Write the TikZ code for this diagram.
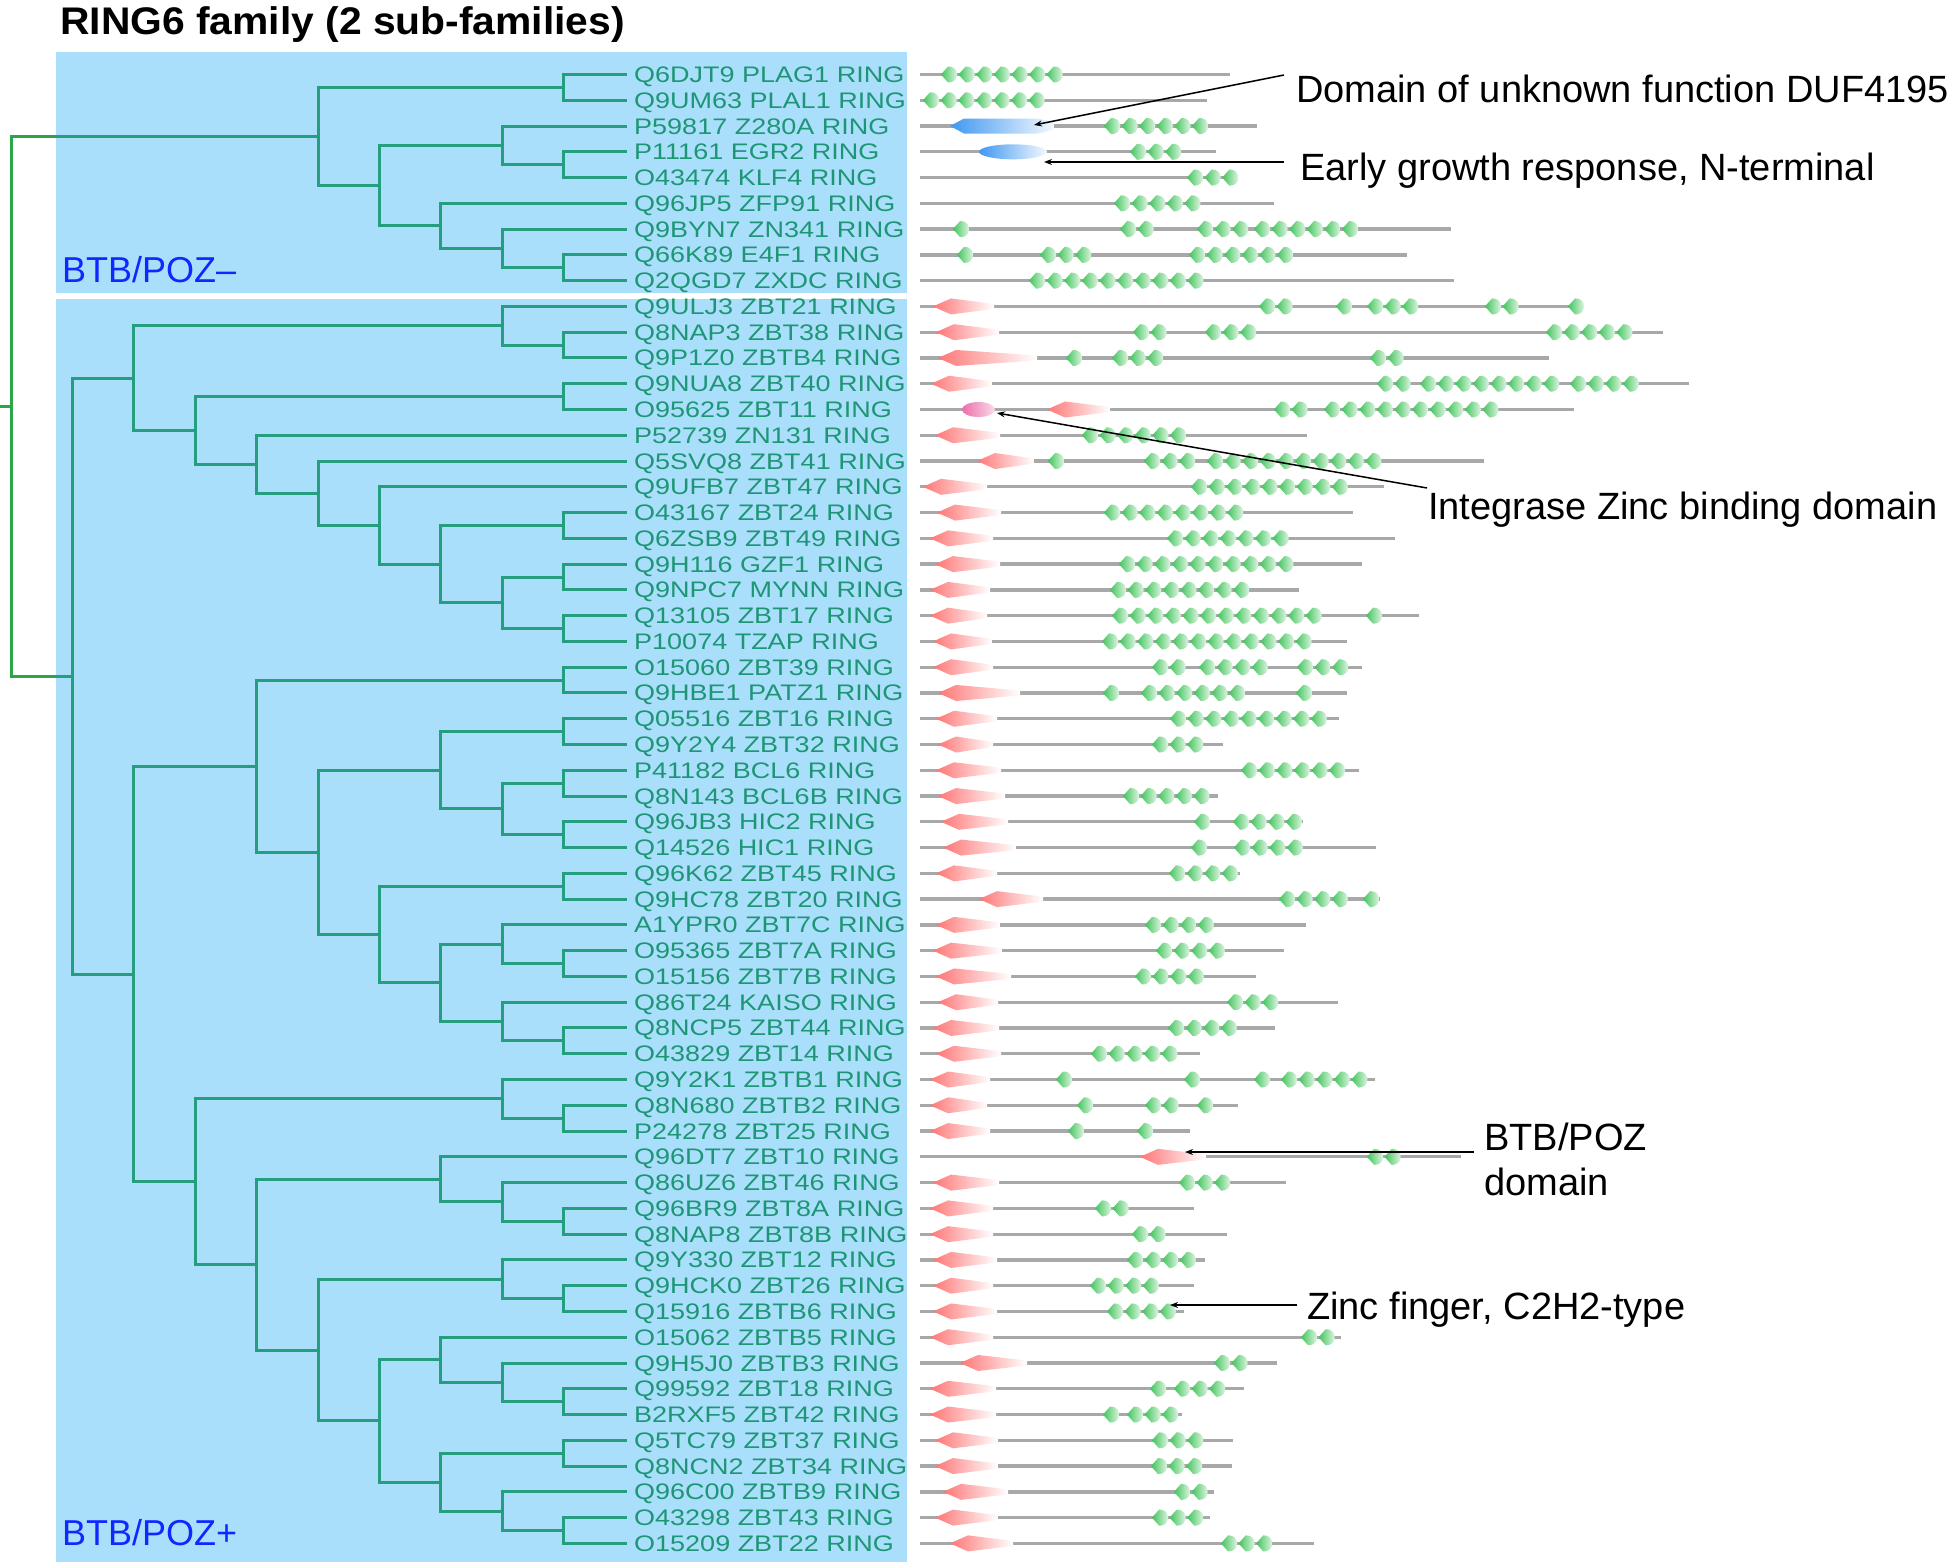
\documentclass[tikz,border=0pt]{standalone}
\usepackage{fontspec}
\setmainfont{Liberation Sans}
\newfontfamily\leaffont[FakeStretch=1.2]{Liberation Sans}
\newfontfamily\headfont[FakeStretch=1.06]{Liberation Sans}
\usetikzlibrary{arrows.meta}

\definecolor{panelblue}{RGB}{170,223,251}
\definecolor{treeteal}{RGB}{36,158,126}
\definecolor{leafteal}{RGB}{30,150,118}
\definecolor{rootgreen}{RGB}{44,164,72}
\definecolor{groupblue}{RGB}{16,40,255}
\definecolor{seqgrey}{RGB}{168,168,168}
\definecolor{znfgreen}{RGB}{64,196,90}
\definecolor{btbred}{RGB}{255,118,118}
\definecolor{dufblue}{RGB}{64,152,240}
\definecolor{intpink}{RGB}{236,110,170}

\begin{document}
\begin{tikzpicture}[x=1pt, y=-1pt,
  branch/.style={draw=treeteal, line width=3pt, line cap=rect},
  rootbranch/.style={draw=rootgreen, line width=3pt, line cap=rect},
  leaf/.style={anchor=west, inner sep=0pt, text=leafteal, text height=16pt, text depth=0pt,
    font=\leaffont\fontsize{22.5pt}{24pt}\selectfont},
  group/.style={anchor=base west, inner sep=0pt, text=groupblue, font=\fontsize{36pt}{40pt}\selectfont},
  note/.style={anchor=base west, inner sep=0pt, font=\fontsize{38pt}{45pt}\selectfont},
  pointer/.style={draw=black, line width=1.5pt, -{Stealth[length=8pt,width=6pt]}},
  seq/.style={draw=seqgrey, line width=3.3pt},
  znf/.pic={\shade[left color=znfgreen, right color=znfgreen!18]
    (0pt,0pt) -- (7pt,-8pt) .. controls (14pt,-8pt) and (16pt,-4pt) .. (16pt,0pt)
    .. controls (16pt,4pt) and (14pt,8pt) .. (7pt,8pt) -- cycle;},
  btb/.pic={\shade[left color=btbred, right color=white]
    (0pt,0pt) -- (18pt,-8pt) -- (#1pt,-2.5pt) -- (#1pt,2.5pt) -- (18pt,8pt) -- cycle;}]
\useasboundingbox (0,0) rectangle (1947,1562);

\fill[panelblue] (56,52) rectangle (907,293);
\fill[panelblue] (56,299) rectangle (907,1562);

\node[anchor=base west, inner sep=0pt, font=\headfont\bfseries\fontsize{38.5pt}{42pt}\selectfont]
  (title) at (60,35) {RING6 family (2 sub-families)};
\node[group] (minus) at (62,283) {BTB/POZ–};
\node[group] (plus) at (62,1545) {BTB/POZ+};

\begin{scope}[y=-25.77pt, yshift=-74.5pt]
\foreach \lab [count=\i from 0] in {Q6DJT9 PLAG1 RING, Q9UM63 PLAL1 RING, P59817 Z280A RING,
  P11161 EGR2 RING, O43474 KLF4 RING, Q96JP5 ZFP91 RING, Q9BYN7 ZN341 RING, Q66K89 E4F1 RING,
  Q2QGD7 ZXDC RING, Q9ULJ3 ZBT21 RING, Q8NAP3 ZBT38 RING, Q9P1Z0 ZBTB4 RING, Q9NUA8 ZBT40 RING,
  O95625 ZBT11 RING, P52739 ZN131 RING, Q5SVQ8 ZBT41 RING, Q9UFB7 ZBT47 RING, O43167 ZBT24 RING,
  Q6ZSB9 ZBT49 RING, Q9H116 GZF1 RING, Q9NPC7 MYNN RING, Q13105 ZBT17 RING, P10074 TZAP RING,
  O15060 ZBT39 RING, Q9HBE1 PATZ1 RING, Q05516 ZBT16 RING, Q9Y2Y4 ZBT32 RING, P41182 BCL6 RING,
  Q8N143 BCL6B RING, Q96JB3 HIC2 RING, Q14526 HIC1 RING, Q96K62 ZBT45 RING, Q9HC78 ZBT20 RING,
  A1YPR0 ZBT7C RING, O95365 ZBT7A RING, O15156 ZBT7B RING, Q86T24 KAISO RING, Q8NCP5 ZBT44 RING,
  O43829 ZBT14 RING, Q9Y2K1 ZBTB1 RING, Q8N680 ZBTB2 RING, P24278 ZBT25 RING, Q96DT7 ZBT10 RING,
  Q86UZ6 ZBT46 RING, Q96BR9 ZBT8A RING, Q8NAP8 ZBT8B RING, Q9Y330 ZBT12 RING, Q9HCK0 ZBT26 RING,
  Q15916 ZBTB6 RING, O15062 ZBTB5 RING, Q9H5J0 ZBTB3 RING, Q99592 ZBT18 RING, B2RXF5 ZBT42 RING,
  Q5TC79 ZBT37 RING, Q8NCN2 ZBT34 RING, Q96C00 ZBTB9 RING, O43298 ZBT43 RING, O15209 ZBT22 RING}
{
  \coordinate (t\i) at (625,\i);
  \node[leaf] (l\i) at (634,\i) {\lab};
}

\foreach \n/\x/\y in {m1/563.6/0.5, m2/563.6/3.5, m3/502.2/2.75, m4/563.6/7.5, m5/502.2/6.75,
  m6/440.8/5.875, m7/379.4/4.3125, m8/318/2.40625,
  n1/563.6/10.5, n2/502.2/9.75, n3/563.6/12.5, n4/563.6/17.5, n5/563.6/19.5, n6/563.6/21.5,
  n7/502.2/20.5, n8/440.8/19, n9/379.4/17.5, n10/318/16.25, n11/256.6/15.125, n12/195.2/13.8125,
  n13/133.8/11.78125, n14/563.6/23.5, n15/563.6/25.5, n16/563.6/27.5, n17/563.6/29.5,
  n18/502.2/28.5, n19/440.8/27, n20/563.6/31.5, n21/563.6/34.5, n22/502.2/33.75, n23/563.6/37.5,
  n24/502.2/36.75, n25/440.8/35.25, n26/379.4/33.375, n27/318/30.1875, n28/256.6/26.84375,
  n29/563.6/40.5, n30/502.2/39.75, n31/563.6/44.5, n32/502.2/43.75, n33/440.8/42.875,
  n34/563.6/47.5, n35/502.2/46.75, n36/563.6/51.5, n37/502.2/50.75, n38/440.8/49.875,
  n39/563.6/53.5, n40/563.6/56.5, n41/502.2/55.75, n42/440.8/54.625, n43/379.4/52.25,
  n44/318/49.5, n45/256.6/46.1875, n46/195.2/42.96875, n47/133.8/34.90625, n48/72.4/23.34375}
  \coordinate (\n) at (\x,\y);
\coordinate (root) at (11,12.875);
\coordinate (stub) at (0,12.875);
\coordinate (edge) at (56,0);

\foreach \a/\p/\b in {t0/m1/t1, t3/m2/t4, t2/m3/m2, t7/m4/t8, t6/m5/m4, t5/m6/m5, m3/m7/m6, m1/m8/m7,
  t10/n1/t11, t9/n2/n1, t12/n3/t13, t17/n4/t18, t19/n5/t20, t21/n6/t22, n5/n7/n6, n4/n8/n7,
  t16/n9/n8, t15/n10/n9, t14/n11/n10, n3/n12/n11, n2/n13/n12,
  t23/n14/t24, t25/n15/t26, t27/n16/t28, t29/n17/t30, n16/n18/n17, n15/n19/n18, t31/n20/t32,
  t34/n21/t35, t33/n22/n21, t37/n23/t38, t36/n24/n23, n22/n25/n24, n20/n26/n25, n19/n27/n26,
  n14/n28/n27, t40/n29/t41, t39/n30/n29, t44/n31/t45, t43/n32/n31, t42/n33/n32, t47/n34/t48,
  t46/n35/n34, t51/n36/t52, t50/n37/n36, t49/n38/n37, t53/n39/t54, t56/n40/t57, t55/n41/n40,
  n39/n42/n41, n38/n43/n42, n35/n44/n43, n33/n45/n44, n30/n46/n45, n28/n47/n46, n13/n48/n47}
  \draw[branch] (\a) -| (\p) |- (\b);
\draw[rootbranch] (m8) -| (root) |- (n48);
\draw[rootbranch] (stub) -- (root);
\draw[branch] (m8) -- (m8 -| edge);
\draw[branch] (n48) -- (n48 -| edge);

\foreach \r/\e in {0/1230, 1/1207, 2/1257, 3/1216, 4/1237, 5/1274, 6/1451, 7/1407, 8/1454,
  9/1581, 10/1663, 11/1549, 12/1689, 13/1574, 14/1307, 15/1484, 16/1384, 17/1353, 18/1395,
  19/1362, 20/1299, 21/1419, 22/1347, 23/1362, 24/1347, 25/1339, 26/1223, 27/1359, 28/1218,
  29/1303, 30/1376, 31/1240, 32/1380, 33/1306, 34/1284, 35/1256, 36/1338, 37/1275, 38/1200,
  39/1375, 40/1238, 41/1190, 42/1461, 43/1286, 44/1194, 45/1227, 46/1205, 47/1194, 48/1184,
  49/1341, 50/1277, 51/1244, 52/1182, 53/1233, 54/1232, 55/1214, 56/1210, 57/1314}
  \draw[seq] (920,\r) -- (\e,\r);

\foreach \r/\s/\w in {9/933/61, 10/936/63, 11/938/99, 12/931/61, 13/1047/63, 14/935/65,
  15/977/57, 16/923/64, 17/937/64, 18/930/63, 19/935/65, 20/930/60, 21/930/57, 22/933/59,
  23/933/60, 24/938/82, 25/936/61, 26/938/55, 27/936/65, 28/938/67, 29/941/67, 30/943/73,
  31/936/61, 32/979/64, 33/936/64, 34/933/69, 35/936/75, 36/938/60, 37/933/66, 38/936/65,
  39/930/60, 40/930/57, 41/930/60, 42/1140/66, 43/933/66, 44/930/63, 45/930/63, 46/933/64,
  47/933/60, 48/933/64, 49/930/63, 50/960/67, 51/930/66, 52/930/66, 53/935/63, 54/935/63,
  55/943/65, 56/935/63, 57/950/63}
  \pic at (\s,\r) {btb=\w};

\shade[left color=dufblue, right color=dufblue!6] (950,2) -- ++(14pt,-7.5pt) -- ++(74pt,0pt)
  -- ++(16pt,4pt) -- ++(0pt,7pt) -- ++(-16pt,4pt) -- ++(-74pt,0pt) -- cycle;
\shade[left color=dufblue, right color=dufblue!6] (1013,3) ellipse [x radius=34pt, y radius=7.5pt];
\shade[left color=intpink, right color=intpink!25] (978.5,13) ellipse [x radius=16.5pt, y radius=7.5pt];

\foreach \r/\s/\k in {0/941/7, 1/923/7, 2/1104/6, 3/1130/3, 4/1187/3, 5/1114/5,
  6/953/1, 6/1120/2, 6/1197/3, 6/1254/6, 7/957/1, 7/1040/3, 7/1189/6, 8/1029/10,
  9/1259/2, 9/1336/1, 9/1367/3, 9/1485/2, 9/1568/1, 10/1133/2, 10/1205/3, 10/1546/5,
  11/1066/1, 11/1112/3, 11/1370/2, 12/1377/2, 12/1420/8, 12/1570/4, 13/1274/2, 13/1324/10,
  14/1082/6, 15/1048/1, 15/1144/3, 15/1207/10, 16/1191/9, 17/1104/8, 18/1167/7, 19/1119/10,
  20/1110/8, 21/1112/12, 21/1366/1, 22/1102/12, 23/1152/2, 23/1199/4, 23/1297/3,
  24/1103/1, 24/1141/6, 24/1296/1, 25/1170/9, 26/1152/3, 27/1241/6, 28/1123/5,
  29/1194/1, 29/1233/4, 30/1191/1, 30/1234/4, 31/1169/4, 32/1279/4, 32/1363/1, 33/1145/4,
  34/1156/4, 35/1135/4, 36/1227/3, 37/1168/4, 38/1091/5, 39/1056/1, 39/1184/1, 39/1254/1,
  39/1281/5, 40/1077/1, 40/1145/2, 40/1197/1, 41/1068/1, 41/1137/1, 42/1367/2, 43/1179/3,
  44/1095/2, 45/1132/2, 46/1127/4, 47/1090/4, 48/1107/4, 49/1301/2, 50/1214/2,
  51/1150/1, 51/1174/3, 52/1103/1, 52/1127/3, 53/1152/3, 54/1151/3, 55/1174/2, 56/1152/3,
  57/1221/3}
  \foreach \j in {1,...,\k}
    \pic at ({\s+17.6*(\j-1)},\r) {znf};
\end{scope}

\node[note] (dufnote) at (1296,103) {Domain of unknown function DUF4195};
\node[note] (egrnote) at (1300,181) {Early growth response, N-terminal};
\node[note] (intnote) at (1428,519) {Integrase Zinc binding domain};
\node[note] (btbnote) at (1484,1150) {BTB/POZ};
\node[note] (btbnote2) at (1484,1195) {domain};
\node[note] (znfnote) at (1307,1319) {Zinc finger, C2H2-type};

\coordinate (dufstart) at (1284,75);
\coordinate (duftip) at (1034,125);
\coordinate (egrstart) at (1284,162);
\coordinate (egrtip) at (1044,162);
\coordinate (intstart) at (1427,488);
\coordinate (inttip) at (997,413);
\coordinate (btbstart) at (1474,1152);
\coordinate (btbtip) at (1185,1152);
\coordinate (znfstart) at (1297,1305);
\coordinate (znftip) at (1170,1305);
\draw[pointer] (dufstart) -- (duftip);
\draw[pointer] (egrstart) -- (egrtip);
\draw[pointer] (intstart) -- (inttip);
\draw[pointer] (btbstart) -- (btbtip);
\draw[pointer] (znfstart) -- (znftip);
\end{tikzpicture}
\end{document}
